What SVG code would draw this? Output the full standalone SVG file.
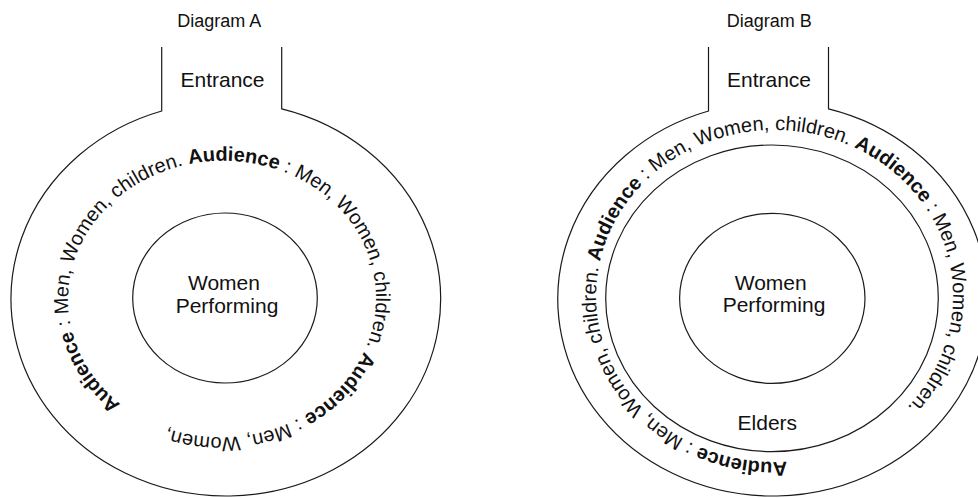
<svg xmlns="http://www.w3.org/2000/svg" width="978" height="498" viewBox="0 0 978 498">
<style>
.line{fill:none;stroke:#1a1a1a;stroke-width:1.2}
.lbl{font-family:"Liberation Sans",Arial,sans-serif;font-size:21px;fill:#111;text-anchor:middle}
.title{font-family:"Liberation Sans",Arial,sans-serif;font-size:18px;fill:#111;text-anchor:middle}
.ring{font-family:"Liberation Sans",Arial,sans-serif;font-size:20px;fill:#111}
.b{font-weight:bold}
</style>
<defs>
<path id="ringA" d="M120.7,404.2 A155,139 0 0 1 323.3,193.8 A155,139 0 0 1 120.7,404.2"/>
<path id="ringB" d="M787,461.6 A178.5,166 0 0 1 762.05,130.4 A178.5,166 0 0 1 787,461.6"/>
</defs>
<rect width="978" height="498" fill="#fff"/>
<g id="diagram-a">
<text class="title" x="219.2" y="26.7">Diagram A</text>
<g id="entrance-a">
<path class="line" d="M161.7,47 V111 A214.8,197 0 1 0 281.7,108.8 V47"/>
<text class="lbl" x="222.5" y="86.7">Entrance</text>
</g>
<g id="audience-a">
<text class="ring"><textPath href="#ringA"><tspan class="b">Audience</tspan> : Men, Women, children. <tspan class="b">Audience</tspan> : Men, Women, children. <tspan class="b">Audience</tspan> : Men, Women,</textPath></text>
</g>
<g id="performing-a">
<ellipse class="line" cx="225" cy="298" rx="92.3" ry="85"/>
<text class="lbl" x="224" y="290">Women</text>
<text class="lbl" x="227" y="313">Performing</text>
</g>
</g>
<g id="diagram-b">
<text class="title" x="769.3" y="26.7">Diagram B</text>
<g id="entrance-b">
<path class="line" d="M708.5,47 V111 A214.8,197 0 1 0 828.5,108.8 V47"/>
<text class="lbl" x="769" y="86.7">Entrance</text>
</g>
<g id="audience-b">
<text class="ring"><textPath href="#ringB"><tspan class="b">Audience</tspan> : Men, Women, children. <tspan class="b">Audience</tspan> : Men, Women, children. <tspan class="b">Audience</tspan> : Men, Women, children.</textPath></text>
</g>
<g id="elders-b">
<ellipse class="line" cx="772" cy="298.3" rx="166.3" ry="153.3"/>
<text class="lbl" x="767.3" y="430">Elders</text>
</g>
<g id="performing-b">
<ellipse class="line" cx="772.3" cy="298.3" rx="92.7" ry="85"/>
<text class="lbl" x="770.7" y="289.5">Women</text>
<text class="lbl" x="774" y="312">Performing</text>
</g>
</g>
<g id="connectors"/>
</svg>
